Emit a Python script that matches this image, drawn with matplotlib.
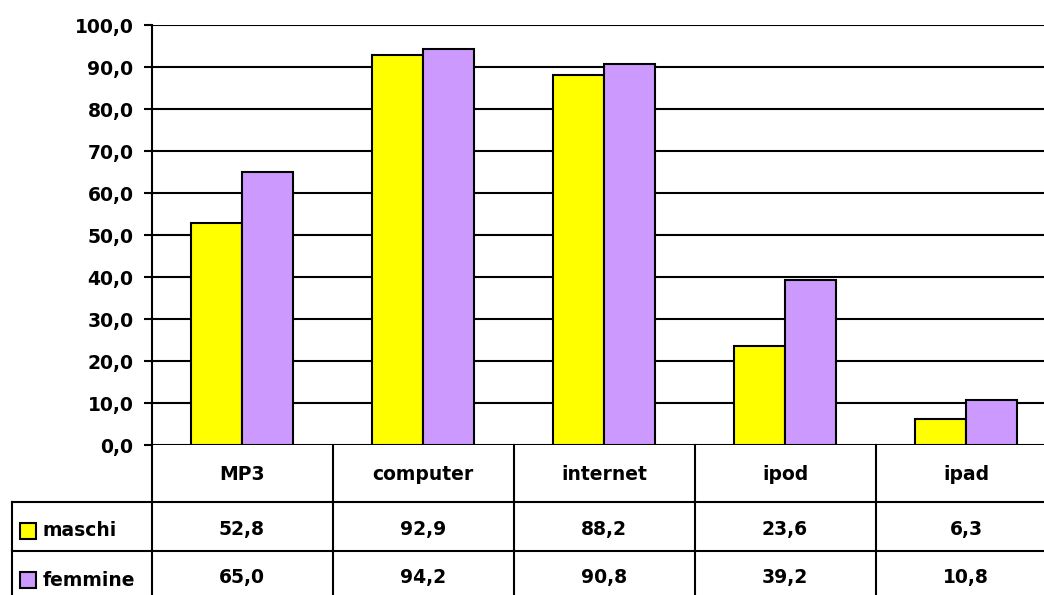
import matplotlib
matplotlib.use("Agg")
import matplotlib.pyplot as plt
from matplotlib.transforms import blended_transform_factory
from matplotlib.lines import Line2D
from matplotlib.patches import Rectangle

categories = ["MP3", "computer", "internet", "ipod", "ipad"]
series_names = ["maschi", "femmine"]
maschi = [52.8, 92.9, 88.2, 23.6, 6.3]
femmine = [65.0, 94.2, 90.8, 39.2, 10.8]
colors = ["#FFFF00", "#CC99FF"]
yticks = [0, 10, 20, 30, 40, 50, 60, 70, 80, 90, 100]

W, H = 1044, 595
fig = plt.figure(figsize=(W / 100, H / 100), dpi=100)
fig.patch.set_facecolor("white")

def fy(py):
    return 1 - py / H

left_px, right_px = 151.5, 1056.5
top_px, bot_px = 25, 445
ax = fig.add_axes([left_px / W, fy(bot_px), (right_px - left_px) / W, (bot_px - top_px) / H])
ax.set_xlim(-0.5, 4.5)
ax.set_ylim(0, 100)

lw = 1.5
bw = 0.283
xs = range(len(categories))
ax.bar([x - bw / 2 for x in xs], maschi, width=bw, color=colors[0], edgecolor="black", linewidth=lw, zorder=3)
ax.bar([x + bw / 2 for x in xs], femmine, width=bw, color=colors[1], edgecolor="black", linewidth=lw, zorder=3)

ax.set_yticks(yticks)
ax.set_yticklabels([f"{v:.1f}".replace(".", ",") for v in yticks], fontsize=13.5, fontweight="bold")
ax.yaxis.grid(True, color="black", linewidth=lw, zorder=0)
ax.tick_params(axis="y", length=6, width=lw, direction="out", pad=7)
ax.set_xticks([])
for s in ["top", "right", "bottom"]:
    ax.spines[s].set_visible(False)
ax.spines["left"].set_linewidth(lw)

# data table below the axes
tr = blended_transform_factory(ax.transData, fig.transFigure)
fig_tr = fig.transFigure
tfont = dict(fontsize=13.5, fontweight="bold", ha="center", va="center")

row_y = [502, 551]
for py in row_y:
    fig.add_artist(Line2D([12 / W, 1.0], [fy(py), fy(py)], color="black", linewidth=lw, transform=fig_tr))
fig.add_artist(Line2D([12 / W, 12 / W], [fy(502), fy(600)], color="black", linewidth=lw, transform=fig_tr))
for b in [-0.5, 0.5, 1.5, 2.5, 3.5]:
    fig.add_artist(Line2D([b, b], [fy(445), fy(600)], color="black", linewidth=lw, transform=tr, clip_on=False))

for i, c in enumerate(categories):
    fig.text(i, fy(474), c, transform=tr, **tfont)
    fig.text(i, fy(529), f"{maschi[i]:.1f}".replace(".", ","), transform=tr, **tfont)
    fig.text(i, fy(578), f"{femmine[i]:.1f}".replace(".", ","), transform=tr, **tfont)

for name, col, py in zip(series_names, colors, [531, 580]):
    fig.add_artist(Rectangle((20 / W, fy(py + 8)), 16 / W, 16 / H, facecolor=col,
                             edgecolor="black", linewidth=lw, transform=fig_tr))
    fig.text(43 / W, fy(py), name, ha="left", va="center", fontsize=13.5, fontweight="bold")

fig.savefig("out.png", dpi=100)
